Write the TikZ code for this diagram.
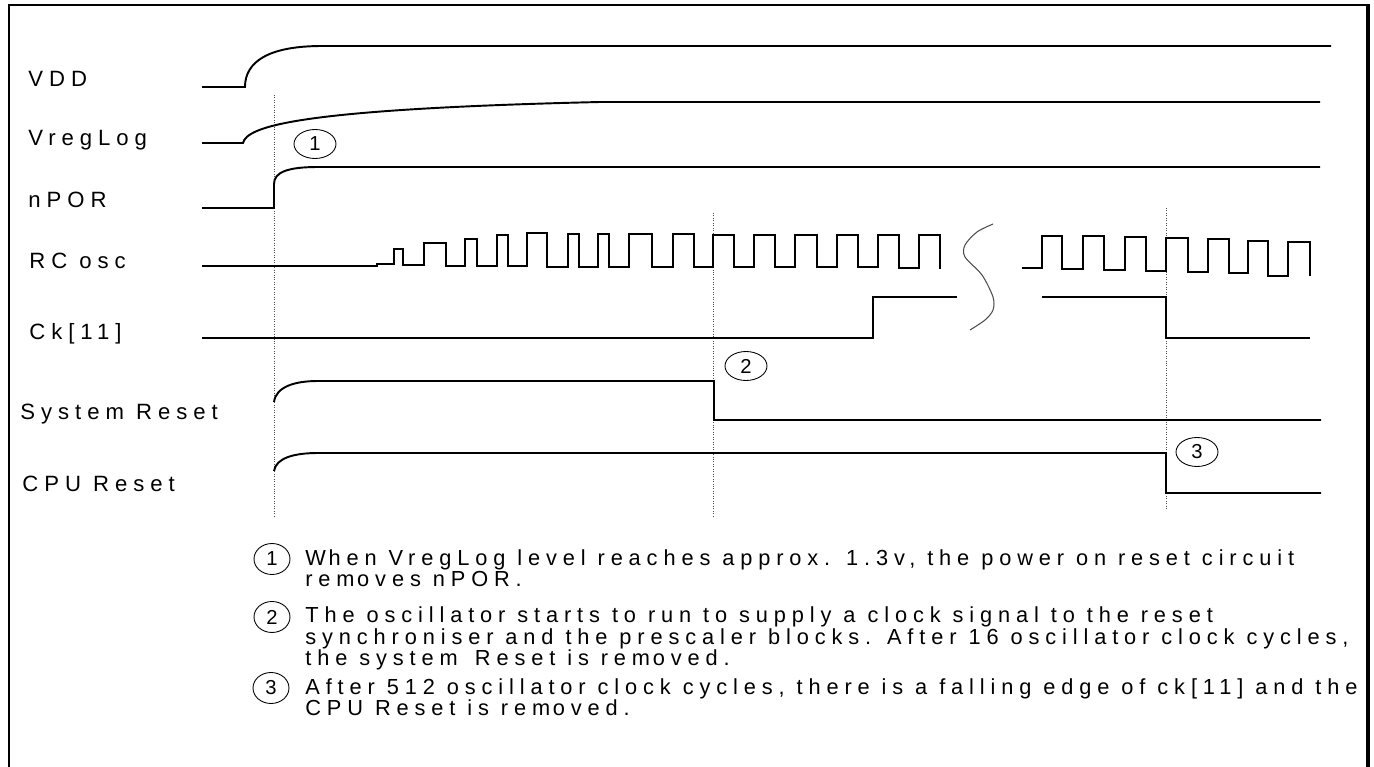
\documentclass[tikz,border=0pt]{standalone}
\usepackage{fontspec}
\setmainfont{Liberation Sans}
\newfontfamily\spaced{Liberation Sans}[LetterSpace=27]
\usetikzlibrary{shapes.geometric}

\begin{document}
\begin{tikzpicture}[x=0.02cm, y=-0.02cm,
        sig/.style={line width=1.1pt},
        guide/.style={densely dotted, line width=0.4pt, black!70},
        lbl/.style={anchor=base west, inner sep=0pt, font=\fontsize{12.6}{14}\spaced},
        note/.style={anchor=base west, inner sep=0pt, font=\fontsize{12.4}{14}\spaced},
        num/.style={ellipse, draw, line width=0.5pt, inner sep=0pt, minimum width=0.84cm, minimum height=0.58cm, font=\fontsize{11.5}{12}\selectfont},
        numtxt/.style={num, minimum width=0.72cm, minimum height=0.62cm}
    ]
    \useasboundingbox (0,0) rectangle (1374,767);

    % ---- FRAME ----
    \draw[line width=1.7pt] (9,767) -- (9,5) -- (1368,5);
    \draw[line width=2.3pt] (1368,4) -- (1368,767);

    % ---- SIGNAL NAMES ----
    \node[lbl] (vdd)    at (28,87)  {VDD};
    \node[lbl] (vreg)   at (28,146) {VregLog};
    \node[lbl] (npor)   at (28,208) {nPOR};
    \node[lbl] (rcosc)  at (29,269) {RC osc};
    \node[lbl] (ck)     at (29,339) {Ck[11]};
    \node[lbl] (sysrst) at (20,419) {System Reset};
    \node[lbl] (cpurst) at (22,491) {CPU Reset};

    % ---- GUIDE LINES ----
    \draw[guide] (274,95) -- (274,517);
    \draw[guide] (713,213) -- (713,517);
    \draw[guide] (1166,208) -- (1166,510);

    % ---- SUPPLIES AND POR ----
    \draw[sig] (202,87) -- (245,87) .. controls (245,62) and (268,46) .. (322,46) -- (1331,46);
    \draw[sig] (202,143) -- (243,143) .. controls (247,126) and (300,109) .. (600,102) -- (1320,102);
    \draw[sig] (202,208) -- (274,208) -- (274,184) .. controls (274,172) and (288,167) .. (318,167) -- (1320,167);

    % ---- RC OSC ----
    \draw[sig] (202,266) -- (377,266) -- (377,264) -- (394,264) -- (394,249) -- (403,249) -- (403,265)
        -- (424,265) -- (424,243) -- (446,243) -- (446,266) -- (465,266) -- (465,239) -- (477,239)
        -- (477,266) -- (497,266) -- (497,235) -- (508,235) -- (508,266) -- (527,266) -- (527,233)
        -- (547,233) -- (547,267) -- (568,267) -- (568,234) -- (579,234) -- (579,267) -- (598,267)
        -- (598,234) -- (609,234) -- (609,267) -- (629,267) -- (629,234) -- (652,234) -- (652,267)
        -- (673,267) -- (673,234) -- (694,234) -- (694,267) -- (713,267) -- (713,235) -- (734,235)
        -- (734,267) -- (754,267) -- (754,235) -- (775,235) -- (775,267) -- (795,267) -- (795,235)
        -- (817,235) -- (817,267) -- (837,267) -- (837,235) -- (858,235) -- (858,267) -- (878,267)
        -- (878,235) -- (899,235) -- (899,268) -- (919,268) -- (919,235) -- (940,235) -- (940,269);
    \draw[sig] (1022,268) -- (1042,268) -- (1042,236) -- (1062,236) -- (1062,269) -- (1083,269)
        -- (1083,236) -- (1104,236) -- (1104,270) -- (1125,270) -- (1125,237) -- (1146,237)
        -- (1146,271) -- (1166,271) -- (1166,238) -- (1188,238) -- (1188,272) -- (1208,272)
        -- (1208,239) -- (1229,239) -- (1229,273) -- (1248,273) -- (1248,241) -- (1268,241)
        -- (1268,276) -- (1288,276) -- (1288,242) -- (1310,242) -- (1310,276);

    % ---- CK[11] ----
    \draw[sig] (202,338) -- (873,338) -- (873,297) -- (957,297);
    \draw[sig] (1042,297) -- (1166,297) -- (1166,338) -- (1310,338);

    % time break
    \draw[line width=0.6pt, black!70] plot[smooth] coordinates {(993,224) (977,232) (965,245) (965,257) (982,275) (993,297) (993,310) (985,320) (970,330)};

    % ---- RESETS ----
    \draw[sig] (274,402) .. controls (276,387) and (294,381) .. (318,381) -- (714,381) -- (714,420) -- (1321,420);
    \draw[sig] (274,471) .. controls (276,458) and (294,453) .. (318,453) -- (1166,453) -- (1166,493) -- (1321,493);

    % ---- MARKERS ----
    \node[num] (m1) at (315,144)  {1};
    \node[num] (m2) at (746,366)  {2};
    \node[num] (m3) at (1197,452) {3};

    % ---- NOTES ----
    \node[numtxt] (k1) at (272,559) {1};
    \node[numtxt] (k2) at (272,617) {2};
    \node[numtxt] (k3) at (271,688) {3};

    \node[note] (n1a) at (305,565) {W\kern1.5pt hen VregLog level reaches approx. 1.3v, the power on reset circuit};
    \node[note] (n1b) at (305,586) {rem\kern1.5pt oves nPOR.};
    \node[note] (n2a) at (305,622) {The oscillator starts to run to supply a clock signal to the reset};
    \node[note] (n2b) at (305,644) {synchroniser and the prescaler blocks. After 16 oscillator clock cycles,};
    \node[note] (n2c) at (305,665) {the system\kern3pt{} Reset is rem\kern1.5pt oved.};
    \node[note] (n3a) at (305,694) {After 512 oscillator clock cycles, there is a falling edge of ck[11] and the};
    \node[note] (n3b) at (305,715) {CPU Reset is rem\kern1.5pt oved.};

\end{tikzpicture}
\end{document}
